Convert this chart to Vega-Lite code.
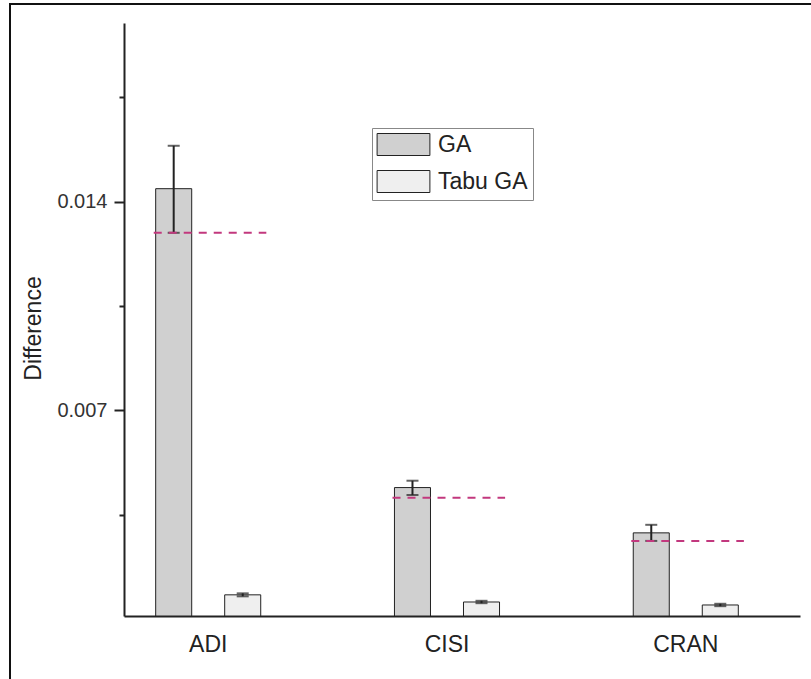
{
  "$schema": "https://vega.github.io/schema/vega-lite/v6.json",
  "width": 801,
  "height": 675,
  "autosize": {"type": "none"},
  "padding": {"left": 10, "top": 4, "right": 0, "bottom": 0},
  "background": "white",
  "view": {"stroke": "#111", "strokeWidth": 2, "strokeDash": [801, 1476, 675]},
  "config": {
    "font": "Liberation Sans",
    "axis": {"domainColor": "#222", "domainWidth": 2, "tickColor": "#222", "tickWidth": 2, "labelColor": "#333", "titleColor": "#222", "grid": false}
  },
  "datasets": {
    "bars": [
      {"Dataset": "ADI", "Method": "GA", "value": 0.01444, "lo": 0.01296, "hi": 0.01588},
      {"Dataset": "ADI", "Method": "Tabu GA", "value": 0.00081, "lo": 0.00076, "hi": 0.00086},
      {"Dataset": "CISI", "Method": "GA", "value": 0.00441, "lo": 0.00416, "hi": 0.00464},
      {"Dataset": "CISI", "Method": "Tabu GA", "value": 0.00057, "lo": 0.00053, "hi": 0.00061},
      {"Dataset": "CRAN", "Method": "GA", "value": 0.00289, "lo": 0.00262, "hi": 0.00316},
      {"Dataset": "CRAN", "Method": "Tabu GA", "value": 0.00047, "lo": 0.00043, "hi": 0.00051}
    ],
    "ref": [
      {"Dataset": "ADI", "value": 0.01296},
      {"Dataset": "CISI", "value": 0.00407},
      {"Dataset": "CRAN", "value": 0.00262}
    ]
  },
  "resolve": {"axis": {"y": "independent"}},
  "layer": [
    {
      "data": {"name": "bars"},
      "mark": {"type": "bar", "stroke": "#222", "strokeWidth": 1},
      "encoding": {
        "x": {
          "field": "Dataset", "type": "nominal",
          "scale": {"domain": ["ADI", "CISI", "CRAN"], "range": [114, 790], "paddingInner": 0.493, "paddingOuter": 0.162, "align": 0.306},
          "axis": {"orient": "bottom", "offset": -63, "ticks": false, "tickSize": 0, "labelFontSize": 23, "labelPadding": 17, "labelColor": "#222", "labelAngle": 0, "title": null}
        },
        "xOffset": {"field": "Method", "type": "nominal", "scale": {"domain": ["GA", "Tabu GA"], "paddingInner": 0.478, "paddingOuter": 0.116}},
        "y": {
          "field": "value", "type": "quantitative", "stack": null,
          "scale": {"domain": [0.0001, 0.02], "range": [612, 19], "clamp": true, "nice": false, "zero": false},
          "axis": {"orient": "left", "offset": -114, "values": [0.007, 0.014], "format": ".3f", "tickSize": 10, "labelPadding": 7, "labelFontSize": 20, "title": "Difference", "titleFontSize": 23, "titleFontWeight": "normal", "titleAngle": -90, "titleX": -91, "titleY": 324, "titleAlign": "center", "titleBaseline": "middle"}
        },
        "y2": {"datum": 0},
        "color": {
          "field": "Method", "type": "nominal",
          "scale": {"domain": ["GA", "Tabu GA"], "range": ["#d0d0d0", "#efefef"]},
          "legend": {"orient": "none", "legendX": 362, "legendY": 124, "title": null, "strokeColor": "#888", "padding": 5, "symbolType": "M-2.4,-1H2.4V1H-2.4Z", "symbolSize": 484, "symbolOffset": 15, "symbolStrokeColor": "#222", "symbolStrokeWidth": 1, "labelFontSize": 23, "labelColor": "#222", "labelOffset": 23, "rowPadding": 10}
        }
      }
    },
    {
      "data": {"name": "bars"},
      "mark": {"type": "rule", "stroke": "#222", "strokeWidth": 2},
      "encoding": {
        "x": {"field": "Dataset", "type": "nominal"},
        "xOffset": {"field": "Method", "type": "nominal"},
        "y": {
          "field": "lo", "type": "quantitative",
          "axis": {"orient": "left", "offset": -114, "values": [0.0035, 0.0105, 0.0175], "labels": false, "domain": false, "tickSize": 5, "title": null}
        },
        "y2": {"field": "hi"}
      }
    },
    {
      "data": {"name": "bars"},
      "mark": {"type": "tick", "color": "#222", "size": 12, "thickness": 2},
      "encoding": {
        "x": {"field": "Dataset", "type": "nominal"},
        "xOffset": {"field": "Method", "type": "nominal"},
        "y": {"field": "hi", "type": "quantitative", "axis": null}
      }
    },
    {
      "data": {"name": "bars"},
      "mark": {"type": "tick", "color": "#222", "size": 12, "thickness": 2},
      "encoding": {
        "x": {"field": "Dataset", "type": "nominal"},
        "xOffset": {"field": "Method", "type": "nominal"},
        "y": {"field": "lo", "type": "quantitative", "axis": null}
      }
    },
    {
      "data": {"name": "ref"},
      "mark": {"type": "rule", "stroke": "#c2387e", "strokeWidth": 2, "strokeDash": [8, 7]},
      "encoding": {
        "x": {"field": "Dataset", "type": "nominal", "bandPosition": 0.05},
        "x2": {"field": "Dataset", "bandPosition": 0.98},
        "y": {"field": "value", "type": "quantitative", "axis": null}
      }
    }
  ]
}
